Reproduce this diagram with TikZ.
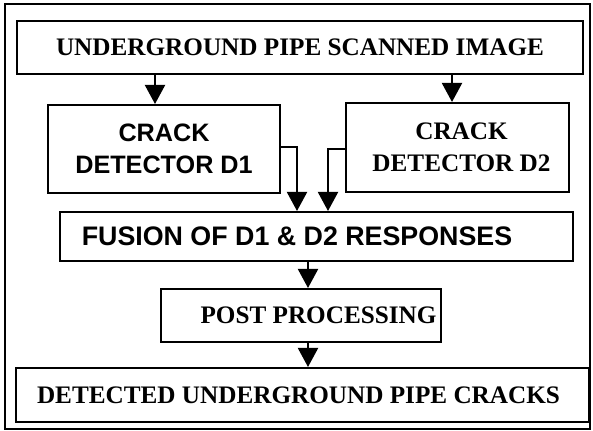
\documentclass[tikz,border=0pt]{standalone}
\usepackage{fontspec}
\setmainfont{Liberation Serif}
\setsansfont{Liberation Sans}
\usetikzlibrary{arrows.meta}

\begin{document}
\begin{tikzpicture}[x=0.5pt, y=0.5pt,
  box/.style={draw, line width=1pt, inner sep=0pt, align=center,
    font=\fontsize{12.6}{16}\selectfont\bfseries},
  sansbox/.style={box, font=\fontsize{12.6}{16}\selectfont\sffamily\bfseries},
  flow/.style={line width=1pt, -{Triangle[width=10pt, length=9.5pt]}}]
% Frame
\useasboundingbox (0,0) rectangle (593,431);
\draw[line width=1pt] (5,2) rectangle (590,427);

% Blocks
\node[box, minimum width=283pt, minimum height=26.5pt] (scan) at (300,383.5) {UNDERGROUND PIPE SCANNED IMAGE};
\node[sansbox, minimum width=116pt, minimum height=44pt] (det1) at (164,282) {CRACK\\DETECTOR D1};
\node[box, minimum width=111.5pt, minimum height=44.5pt] (det2) at (457.5,283.5) {\hspace*{4pt}CRACK\\\hspace*{4pt}DETECTOR D2};
\node[sansbox, font=\fontsize{13.4}{16}\selectfont\sffamily\bfseries, minimum width=256.5pt, minimum height=24.5pt] (fuse) at (316.5,194.5) {FUSION OF D1 \& D2 RESPONSES\hspace*{19.5pt}};
\node[box, minimum width=140pt, minimum height=26.5pt] (post) at (301,115.5) {\hspace*{17.5pt}POST PROCESSING};
\node[box, minimum width=286.5pt, minimum height=27pt] (out) at (302.5,36) {DETECTED UNDERGROUND PIPE CRACKS\hspace*{4pt}};

% Arrows
\coordinate (ltap) at (155,0);
\coordinate (rtap) at (452,0);
\coordinate (jl) at (297,284);
\coordinate (jr) at (328,282);
\coordinate (mid) at (308,0);
\draw[flow] (scan.south -| ltap) -- (det1.north -| ltap);
\draw[flow] (scan.south -| rtap) -- (det2.north -| rtap);
\draw[flow] (jl -| det1.east) -- (jl) -- (jl |- fuse.north);
\draw[flow] (jr -| det2.west) -- (jr) -- (jr |- fuse.north);
\draw[flow] (fuse.south -| mid) -- (post.north -| mid);
\draw[flow] (post.south -| mid) -- (out.north -| mid);
\end{tikzpicture}
\end{document}
